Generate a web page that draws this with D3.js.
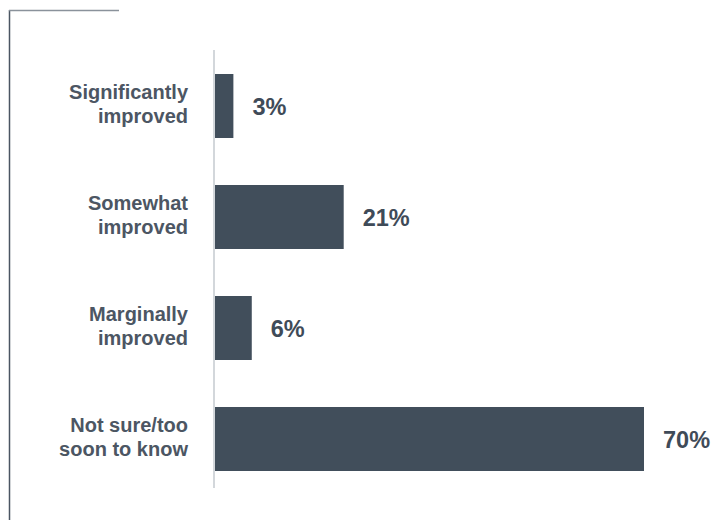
<!DOCTYPE html>
<html>
<head>
<meta charset="utf-8">
<script src="https://cdn.jsdelivr.net/npm/d3@7"></script>
<style>
  html, body { margin: 0; padding: 0; background: #ffffff; }
  svg { display: block; font-family: "Liberation Sans", Arial, Helvetica, sans-serif; }
</style>
</head>
<body>
<svg id="chart" width="712" height="520"></svg>
<script>
const categories = [
  ["Significantly", "improved"],
  ["Somewhat", "improved"],
  ["Marginally", "improved"],
  ["Not sure/too", "soon to know"]
];
const values = [3, 21, 6, 70];
const valueLabels = ["3%", "21%", "6%", "70%"];

const svg = d3.select("#chart");

// decorative frame lines on the left
svg.append("line")
  .attr("x1", 9.5).attr("x2", 9.5).attr("y1", 10).attr("y2", 520)
  .attr("stroke", "#4a5562").attr("stroke-width", 1.5);
svg.append("line")
  .attr("x1", 9).attr("x2", 119).attr("y1", 10.5).attr("y2", 10.5)
  .attr("stroke", "#8a929b").attr("stroke-width", 1.5);

const x0 = 215;
const x = d3.scaleLinear().domain([0, 70]).range([x0, 644]);
const y = d3.scaleBand().domain(d3.range(categories.length)).range([50.5, 494.5]).paddingInner(0.42).paddingOuter(0.21);

// axis line
svg.append("line")
  .attr("x1", x0 - 1).attr("x2", x0 - 1).attr("y1", 50).attr("y2", 488)
  .attr("stroke", "#d3d7db").attr("stroke-width", 2);

const g = svg.append("g");
const bw = 64;

g.selectAll("rect").data(values).enter().append("rect")
  .attr("x", x0)
  .attr("y", (d, i) => y(i) + y.bandwidth() / 2 - bw / 2)
  .attr("width", d => x(d) - x0)
  .attr("height", bw)
  .attr("fill", "#414e5b");

g.selectAll("text.val").data(values).enter().append("text")
  .attr("class", "val")
  .attr("x", d => x(d) + 19)
  .attr("y", (d, i) => y(i) + y.bandwidth() / 2 + 9)
  .attr("font-size", 23.5)
  .attr("font-weight", "bold")
  .attr("fill", "#3f4b58")
  .text((d, i) => valueLabels[i]);

categories.forEach((lines, i) => {
  const c = y(i) + y.bandwidth() / 2;
  const t = g.append("text")
    .attr("text-anchor", "end")
    .attr("font-size", 20)
    .attr("font-weight", "bold")
    .attr("fill", "#4c5663");
  lines.forEach((ln, j) => {
    t.append("tspan").attr("x", 188).attr("y", c - 7 + j * 24).text(ln);
  });
});
</script>
</body>
</html>
